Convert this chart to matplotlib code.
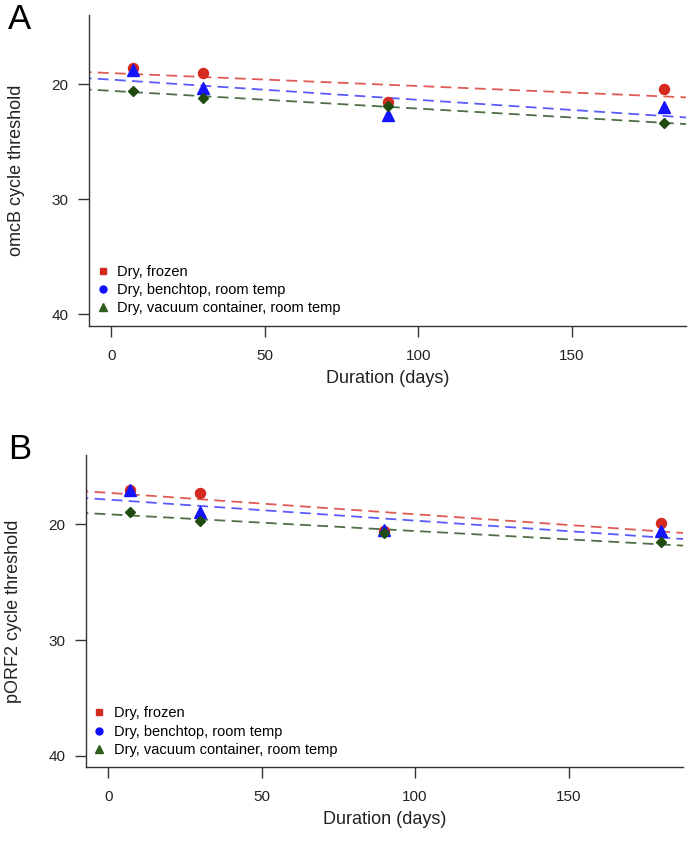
import numpy as np
import matplotlib
matplotlib.use("Agg")
import matplotlib.pyplot as plt
from matplotlib.lines import Line2D

plt.rcParams['font.family'] = ['Liberation Sans', 'DejaVu Sans']

# storage duration (days)
days = [7, 30, 90, 180]

# panel A: omcB cycle threshold
omcb_frozen = [18.64, 19.05, 21.56, 20.40]
omcb_benchtop = [18.76, 20.37, 22.71, 22.02]
omcb_vacuum = [20.58, 21.24, 21.90, 23.38]

# panel B: pORF2 cycle threshold
porf2_frozen = [17.00, 17.29, 20.60, 19.88]
porf2_benchtop = [17.05, 18.90, 20.46, 20.60]
porf2_vacuum = [18.90, 19.74, 20.75, 21.55]

labels = ["Dry, frozen", "Dry, benchtop, room temp", "Dry, vacuum container, room temp"]
yticks = [20, 30, 40]
xticks = [0, 50, 100, 150]

pt_colors = ['#d42a20', '#1414ff', '#1f4a10']
ln_colors = ['#e05a55', '#5a5aff', '#4f6f47']
markers = ['o', '^', 'D']
msizes = [7.2, 8.5, 5]


def draw_panel(ax, series, ylabel):
    x = np.array(days)
    xx = np.array([-10, 200])
    # least-squares trend line per storage condition
    for vals, lc in zip(series, ln_colors):
        slope, icpt = np.polyfit(x, vals, 1)
        ax.plot(xx, icpt + slope * xx, color=lc, lw=1.3, dashes=(6, 3.5), zorder=1)
    for vals, pc, m, ms in zip(series, pt_colors, markers, msizes):
        ax.plot(x, vals, ls='none', marker=m, color=pc, markersize=ms, zorder=3)

    ax.set_xlim(-7.2, 187.2)
    ax.set_ylim(41, 14)
    ax.set_xticks(xticks)
    ax.set_yticks(yticks)
    ax.spines['top'].set_visible(False)
    ax.spines['right'].set_visible(False)
    for s in ['left', 'bottom']:
        ax.spines[s].set_color('#333333')
        ax.spines[s].set_linewidth(1.0)
    ax.tick_params(axis='both', direction='out', length=8, width=1.0,
                   color='#333333', labelsize=11, labelcolor='#222222')
    ax.tick_params(axis='x', pad=8.5)
    ax.tick_params(axis='y', pad=7)
    ax.set_xlabel("Duration (days)", fontsize=13, labelpad=5, color='#222222')
    ax.set_ylabel(ylabel, fontsize=13, labelpad=19, color='#222222')

    handles = [
        Line2D([], [], ls='none', marker='s', color=pt_colors[0], markersize=5),
        Line2D([], [], ls='none', marker='o', color='#1010ff', markersize=5),
        Line2D([], [], ls='none', marker='^', color='#2e5e1e', markersize=6),
    ]
    ax.legend(handles, labels, loc='lower left', bbox_to_anchor=(-0.007, 0.0),
              frameon=False, fontsize=10.5, handlelength=1.0, handletextpad=0.5,
              labelspacing=0.3, borderaxespad=0.3)


fig = plt.figure(figsize=(6.91, 8.58), dpi=100)
ax1 = fig.add_axes([0.1292, 0.6204, 0.8635, 0.3621])
ax2 = fig.add_axes([0.1245, 0.1057, 0.8635, 0.3640])

draw_panel(ax1, [omcb_frozen, omcb_benchtop, omcb_vacuum], "omcB cycle threshold")
draw_panel(ax2, [porf2_frozen, porf2_benchtop, porf2_vacuum], "pORF2 cycle threshold")

fig.text(0.012, 0.9662, "A", fontsize=25, ha='left', va='baseline')
fig.text(0.012, 0.465, "B", fontsize=25, ha='left', va='baseline')

fig.savefig("out.png", dpi=100)
